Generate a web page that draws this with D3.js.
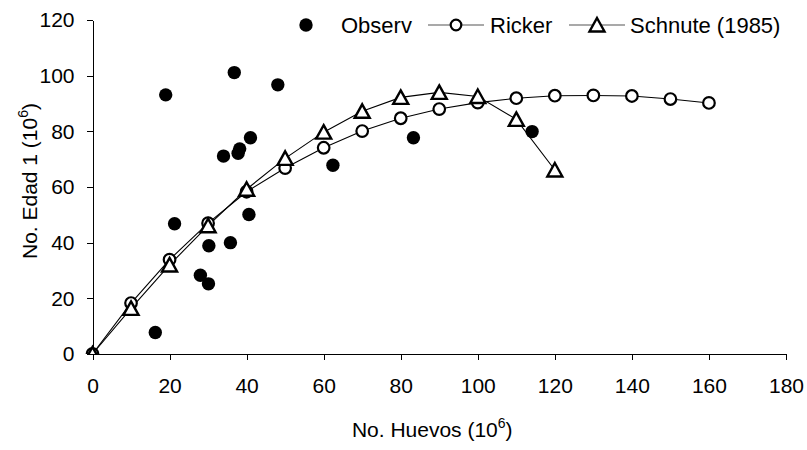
<!DOCTYPE html>
<html><head><meta charset="utf-8">
<script src="https://cdn.jsdelivr.net/npm/d3@7"></script>
<style>body{margin:0;background:#fff}</style>
</head><body><svg id="c" width="807" height="450"></svg>
<script>
const obsX=[19.0,36.8,48.1,41.0,38.2,37.8,34.0,62.4,21.3,40.6,35.8,30.2,28.0,30.1,16.3,83.3,114.1];
const obsY=[93.1,101.1,96.7,77.7,73.7,72.1,71.1,67.8,46.8,50.1,40.0,38.9,28.3,25.2,7.7,77.7,79.9];
const rickerX=[0,10,20,30,40,50,60,70,80,90,100,110,120,130,140,150,160];
const rickerY=[0,18.3,33.9,47.0,58.3,66.8,74.1,80.1,84.7,88.0,90.3,91.9,92.8,92.9,92.7,91.6,90.2];
const schnuteX=[0,10,20,30,40,50,60,70,80,90,100,110,120];
const schnuteY=[0,16.4,32.0,46.1,59.2,70.3,79.7,87.2,92.2,94.0,92.5,84.3,66.1];
const xTicks=[0,20,40,60,80,100,120,140,160,180];
const yTicks=[0,20,40,60,80,100,120];
const legendLabels=["Observ","Ricker","Schnute (1985)"];

const FONT="'Liberation Sans', Arial, sans-serif";
const svg=d3.select("#c");
const x=d3.scaleLinear().domain([0,180]).range([92.5,786]);
const y=d3.scaleLinear().domain([0,120]).range([354,20]);

const xa=svg.append("g").attr("transform","translate(0,354)")
  .call(d3.axisBottom(x).tickValues(xTicks).tickSize(6).tickSizeOuter(0).tickPadding(18));
const ya=svg.append("g").attr("transform","translate(92.5,0)")
  .call(d3.axisLeft(y).tickValues(yTicks).tickSize(6).tickSizeOuter(0).tickPadding(12));
[xa,ya].forEach(a=>{
  a.selectAll("path,line").attr("stroke","#000").attr("stroke-width",1).attr("shape-rendering","crispEdges");
  a.selectAll("text").attr("font-family",FONT).attr("font-size",21).attr("fill","#000");
});
xa.select("path.domain").attr("d",`M${x(0)},0.5H${x(180)}`);

// titles
const xt=svg.append("text").attr("x",(x(0)+x(180))/2-7).attr("y",437).attr("text-anchor","middle")
  .attr("font-family",FONT).attr("font-size",21).attr("fill","#000");
xt.append("tspan").text("No. Huevos (10");
xt.append("tspan").attr("font-size",14).attr("dy",-9).text("6");
xt.append("tspan").attr("dy",9).text(")");

const yt=svg.append("text").attr("transform",`translate(36.5,181) rotate(-90)`)
  .attr("text-anchor","middle").attr("font-family",FONT).attr("font-size",21).attr("fill","#000");
yt.append("tspan").text("No. Edad 1 (10");
yt.append("tspan").attr("font-size",14).attr("dy",-9).text("6");
yt.append("tspan").attr("dy",9).text(")");

svg.append("clipPath").attr("id","clip").append("rect").attr("x",0).attr("y",0).attr("width",807).attr("height",354);

const line=d3.line().x(d=>x(d[0])).y(d=>y(d[1]));
const rData=rickerX.map((v,i)=>[v,rickerY[i]]);
const sData=schnuteX.map((v,i)=>[v,schnuteY[i]]);
const oData=obsX.map((v,i)=>[v,obsY[i]]);

svg.append("path").datum(rData).attr("d",line).attr("fill","none").attr("stroke","#000").attr("stroke-width",1.1);
svg.append("path").datum(sData).attr("d",line).attr("fill","none").attr("stroke","#000").attr("stroke-width",1.1);

const tri=(cx,cy)=>`M${cx},${cy-7}L${cx+7.5},${cy+6.5}L${cx-7.5},${cy+6.5}Z`;
const mk=svg.append("g").attr("clip-path","url(#clip)");

mk.selectAll("circle.obs").data(oData).join("circle").attr("class","obs")
  .attr("cx",d=>x(d[0])).attr("cy",d=>y(d[1])).attr("r",6.7).attr("fill","#000");
mk.selectAll("circle.rk").data(rData).join("circle").attr("class","rk")
  .attr("cx",d=>x(d[0])).attr("cy",d=>y(d[1])).attr("r",5.8)
  .attr("fill","#fff").attr("stroke","#000").attr("stroke-width",2.2);
mk.selectAll("path.sc").data(sData).join("path").attr("class","sc")
  .attr("d",d=>tri(x(d[0]),y(d[1])))
  .attr("fill","#fff").attr("stroke","#000").attr("stroke-width",2.4).attr("stroke-linejoin","miter");

// legend
const lg=svg.append("g");
lg.append("circle").attr("cx",306).attr("cy",25).attr("r",6.7).attr("fill","#000");
lg.append("text").attr("x",341).attr("y",32.5).text(legendLabels[0]);
lg.append("line").attr("x1",428).attr("x2",484).attr("y1",25).attr("y2",25).attr("stroke","#555").attr("stroke-width",1.2);
lg.append("circle").attr("cx",456).attr("cy",25).attr("r",5.3).attr("fill","#fff").attr("stroke","#000").attr("stroke-width",2.2);
lg.append("text").attr("x",490).attr("y",32.5).text(legendLabels[1]);
lg.append("line").attr("x1",569).attr("x2",625).attr("y1",25).attr("y2",25).attr("stroke","#555").attr("stroke-width",1.2);
lg.append("path").attr("d",tri(597,25)).attr("fill","#fff").attr("stroke","#000").attr("stroke-width",2.4);
lg.append("text").attr("x",630).attr("y",32.5).text(legendLabels[2]);
lg.selectAll("text").attr("font-family",FONT).attr("font-size",22).attr("fill","#000");
</script></body></html>
